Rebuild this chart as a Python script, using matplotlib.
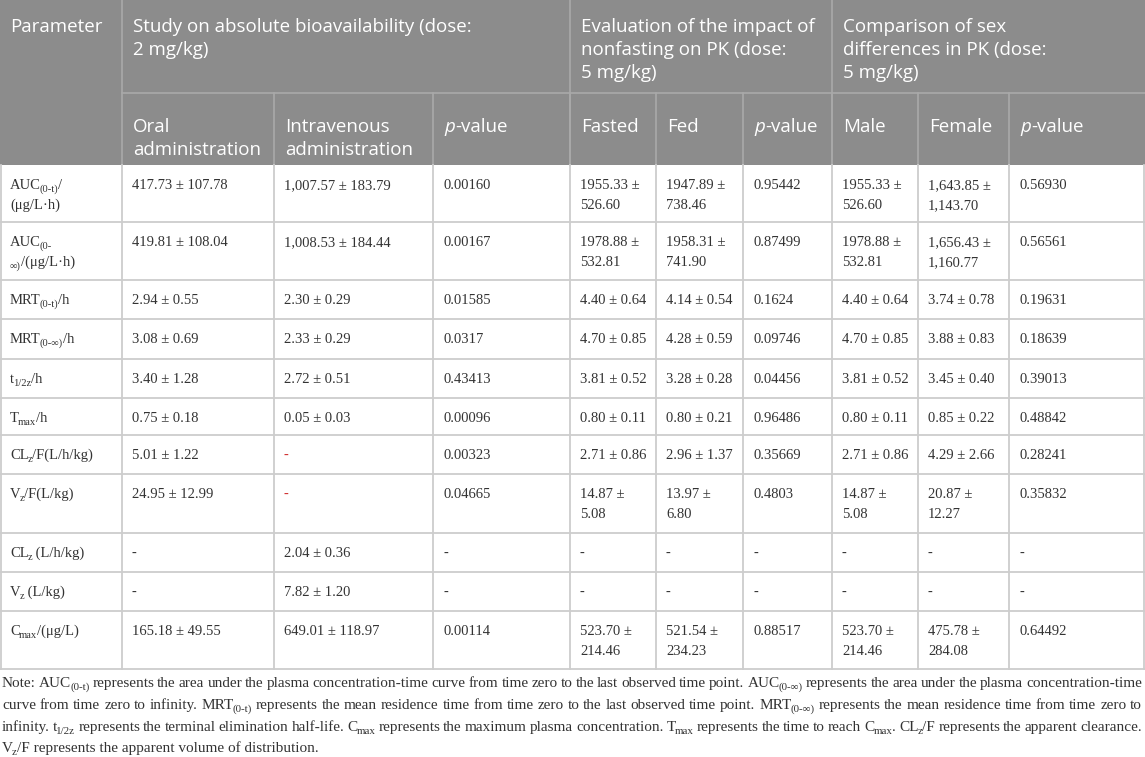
import re
import matplotlib
matplotlib.use("Agg")
import matplotlib.pyplot as plt
from matplotlib.patches import Rectangle

# ---- table content ----
group_titles = [
    "Study on absolute bioavailability (dose:\n2 mg/kg)",
    "Evaluation of the impact of\nnonfasting on PK (dose:\n5 mg/kg)",
    "Comparison of sex\ndifferences in PK (dose:\n5 mg/kg)",
]
sub_headers = ["Oral\nadministration", "Intravenous\nadministration", "*p*-value",
               "Fasted", "Fed", "*p*-value",
               "Male", "Female", "*p*-value"]

params = ["AUC_{(0-t)}/\n(μg/L·h)", "AUC_{(0-}\n_{∞)}/(μg/L·h)", "MRT_{(0-t)}/h",
          "MRT_{(0-∞)}/h", "t_{1/2z}/h", "T_{max}/h", "CL_{z}/F(L/h/kg)",
          "V_{z}/F(L/kg)", "CL_{z} (L/h/kg)", "V_{z} (L/kg)", "C_{max}/(μg/L)"]

oral = ["417.73 ± 107.78", "419.81 ± 108.04", "2.94 ± 0.55", "3.08 ± 0.69",
        "3.40 ± 1.28", "0.75 ± 0.18", "5.01 ± 1.22", "24.95 ± 12.99", "-", "-",
        "165.18 ± 49.55"]
intravenous = ["1,007.57 ± 183.79", "1,008.53 ± 184.44", "2.30 ± 0.29", "2.33 ± 0.29",
               "2.72 ± 0.51", "0.05 ± 0.03", "-", "-", "2.04 ± 0.36", "7.82 ± 1.20",
               "649.01 ± 118.97"]
p_bioavail = ["0.00160", "0.00167", "0.01585", "0.0317", "0.43413", "0.00096",
              "0.00323", "0.04665", "-", "-", "0.00114"]
fasted = ["1955.33 ±\n526.60", "1978.88 ±\n532.81", "4.40 ± 0.64", "4.70 ± 0.85",
          "3.81 ± 0.52", "0.80 ± 0.11", "2.71 ± 0.86", "14.87 ±\n5.08", "-", "-",
          "523.70 ±\n214.46"]
fed = ["1947.89 ±\n738.46", "1958.31 ±\n741.90", "4.14 ± 0.54", "4.28 ± 0.59",
       "3.28 ± 0.28", "0.80 ± 0.21", "2.96 ± 1.37", "13.97 ±\n6.80", "-", "-",
       "521.54 ±\n234.23"]
p_fasting = ["0.95442", "0.87499", "0.1624", "0.09746", "0.04456", "0.96486",
             "0.35669", "0.4803", "-", "-", "0.88517"]
male = ["1955.33 ±\n526.60", "1978.88 ±\n532.81", "4.40 ± 0.64", "4.70 ± 0.85",
        "3.81 ± 0.52", "0.80 ± 0.11", "2.71 ± 0.86", "14.87 ±\n5.08", "-", "-",
        "523.70 ±\n214.46"]
female = ["1,643.85 ±\n1,143.70", "1,656.43 ±\n1,160.77", "3.74 ± 0.78", "3.88 ± 0.83",
          "3.45 ± 0.40", "0.85 ± 0.22", "4.29 ± 2.66", "20.87 ±\n12.27", "-", "-",
          "475.78 ±\n284.08"]
p_sex = ["0.56930", "0.56561", "0.19631", "0.18639", "0.39013", "0.48842",
         "0.28241", "0.35832", "-", "-", "0.64492"]

red_cells = [(6, 2), (7, 2)]  # (row, col) shown in red

note_lines = [
    "Note: AUC_{(0-t)} represents the area under the plasma concentration-time curve from time zero to the last observed time point. AUC_{(0-∞)} represents the area under the plasma concentration-time",
    "curve from time zero to infinity. MRT_{(0-t)} represents the mean residence time from time zero to the last observed time point. MRT_{(0-∞)} represents the mean residence time from time zero to",
    "infinity. t_{1/2z} represents the terminal elimination half-life. C_{max} represents the maximum plasma concentration. T_{max} represents the time to reach C_{max}. CL_{z}/F represents the apparent clearance.",
    "V_{z}/F represents the apparent volume of distribution.",
]

columns = [params, oral, intravenous, p_bioavail, fasted, fed, p_fasting, male, female, p_sex]

# ---- layout (pixels) ----
col_edges = [0, 122, 274, 433, 570, 656, 743, 832, 918, 1009, 1145]
group_edges = [122, 570, 832, 1145]
head_mid, head_bot = 93, 165
row_edges = [165, 222, 280, 319, 359, 398, 435, 474, 533, 572, 611, 669]

HEAD_BG = "#8c8c8c"
HEAD_LINE = "#a9a9a9"
GRID = "#cdcdcd"
TXT = "#333333"
SANS = "Open Sans"
SERIF = "Liberation Serif"

fig = plt.figure(figsize=(11.45, 7.57), dpi=100)
ax = fig.add_axes([0, 0, 1, 1])
ax.set_xlim(0, 1145)
ax.set_ylim(757, 0)
ax.axis("off")
renderer = fig.canvas.get_renderer()


def parse_runs(s):
    out = []
    for p in re.split(r"(_\{[^}]*\}|\*[^*]*\*)", s):
        if not p:
            continue
        if p.startswith("_{"):
            out.append((p[2:-1], "sub"))
        elif p.startswith("*"):
            out.append((p[1:-1], "it"))
        else:
            out.append((p, "n"))
    return out


_cache = {}


def measure(s, size, family, style="normal"):
    key = (s, size, family, style)
    if key not in _cache:
        t = ax.text(0, 0, s, fontsize=size, family=family, style=style)
        _cache[key] = t.get_window_extent(renderer).width
        t.remove()
    return _cache[key]


def advance(s, size, family, style="normal"):
    return measure("|" + s + "|", size, family, style) - measure("||", size, family, style)


def run_props(kind, size):
    sz = size * 0.72 if kind == "sub" else size
    st = "italic" if kind == "it" else "normal"
    dy = size * 0.28 if kind == "sub" else 0
    return sz, st, dy


SUB_KERN = 1.0  # pull subscripts a little closer to their base


def runs_width(s, size, family):
    w = 0
    for i, (txt, kind) in enumerate(parse_runs(s)):
        sz, st, _ = run_props(kind, size)
        if kind == "sub" and i > 0:
            w -= SUB_KERN
        w += advance(txt, sz, family, st)
    return w


def draw_runs(x, y, s, size, family, color):
    # plain stretches are one text each, subscripts/italics are separate texts
    for i, (txt, kind) in enumerate(parse_runs(s)):
        sz, st, dy = run_props(kind, size)
        if kind == "sub" and i > 0:
            x -= SUB_KERN
        ax.text(x, y + dy, txt, fontsize=sz, family=family, style=st,
                color=color, va="baseline", ha="left")
        x += advance(txt, sz, family, st)


def draw_cell(x, y, s, size, family, color, step):
    for i, line in enumerate(s.split("\n")):
        draw_runs(x, y + i * step, line, size, family, color)


def draw_justified(x, right, y, s, size, family, color):
    words = s.split(" ")
    widths = [runs_width(w, size, family) for w in words]
    gap = (right - x - sum(widths)) / (len(words) - 1)
    for w, ww in zip(words, widths):
        draw_runs(x, y, w, size, family, color)
        x += ww + gap


# header background
ax.add_patch(Rectangle((0, 0), 1145, head_bot, color=HEAD_BG, lw=0))
ax.plot([group_edges[0], 1145], [head_mid, head_mid], color=HEAD_LINE, lw=1.2)
for xe in group_edges[:-1]:
    ax.plot([xe, xe], [0, head_bot], color=HEAD_LINE, lw=1.2)
for xe in col_edges[2:-1]:
    ax.plot([xe, xe], [head_mid, head_bot], color=HEAD_LINE, lw=1.2)

HEAD_SIZE = 13.5
draw_cell(10, 32, "Parameter", HEAD_SIZE, SANS, "white", 23)
for g, title in enumerate(group_titles):
    draw_cell(group_edges[g] + 11, 32, title, HEAD_SIZE, SANS, "white", 23)
for c, label in enumerate(sub_headers):
    draw_cell(col_edges[c + 1] + 11, 132, label, HEAD_SIZE, SANS, "white", 23)

# body grid
for ye in row_edges[1:]:
    ax.plot([0, 1145], [ye, ye], color=GRID, lw=1.3)
for xe in col_edges:
    xx = min(max(xe, 0.7), 1144.3)
    ax.plot([xx, xx], [row_edges[0], row_edges[-1]], color=GRID, lw=1.3)

BODY_SIZE = 10.5
for c, col in enumerate(columns):
    for r, val in enumerate(col):
        color = "#d03030" if (r, c) in red_cells else TXT
        draw_cell(col_edges[c] + 10, row_edges[r] + 24, val, BODY_SIZE, SERIF, color, 20)

# note, justified like the source
note_y = [687, 709, 731, 752]
for i, line in enumerate(note_lines):
    if i < len(note_lines) - 1:
        draw_justified(2, 1142, note_y[i], line, 11, SERIF, TXT)
    else:
        draw_runs(2, note_y[i], line, 11, SERIF, TXT)

fig.savefig("out.png", dpi=100)
